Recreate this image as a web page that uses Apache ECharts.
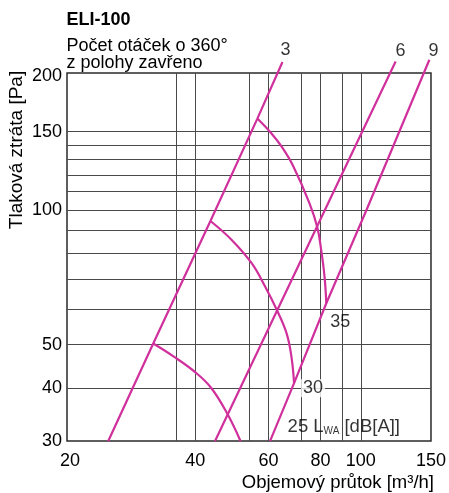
<!DOCTYPE html>
<html><head><meta charset="utf-8">
<script src="https://cdn.jsdelivr.net/npm/echarts@6/dist/echarts.min.js"></script>
<style>html,body{margin:0;padding:0;background:#fff}#c{width:449px;height:493px}</style>
</head><body><div id="c"></div>
<script>
// ---- axis extents and ticks (Q in m3/h, p in Pa) ----
const xMinVal = 19.67, xMaxVal = 147.4;
const yMinVal = 30.43, yMaxVal = 202.9;
const xTickLabels = [20, 40, 60, 80, 100, 150];
const yTickLabels = [30, 40, 50, 100, 150, 200];
const xGridValues = [36, 40, 54, 60, 72, 80, 90, 100];
const yGridValues = [40, 50, 60, 70, 80, 90, 100, 110, 120, 130, 140, 150];

// ---- damper lines (number of turns 3, 6, 9) ----
const turns3Q = [24.7, 31.7, 43.5, 56.4, 64.8];
const turns3P = [30.4, 50.3, 94.6, 160.4, 214.7];
const turns6Q = [44.6, 81.9, 121.2];
const turns6P = [30.4, 100, 215.4];
const turns9Q = [60.5, 69.1, 82.6, 103.1, 146.1];
const turns9P = [30.4, 41.0, 61.9, 100, 217.3];

// ---- sound power curves L_WA 35 / 30 / 25 dB(A) ----
const lwa35Q = [56.4, 60.9, 64.7, 68.8, 75.3, 78.6, 80.3, 81.8, 82.6];
const lwa35P = [160.4, 148.7, 138.3, 125.5, 103.5, 91.5, 81.4, 70.9, 61.9];
const lwa30Q = [43.5, 49.0, 54.7, 58.9, 62.7, 66.3, 68.1, 69.1];
const lwa30P = [94.6, 85.7, 76.0, 67.4, 60.0, 53.0, 47.0, 41.0];
const lwa25Q = [31.7, 35.3, 40.1, 43.7, 47.7, 51.4];
const lwa25P = [50.3, 47.2, 43.3, 40.0, 35.1, 30.4];

const L = Math.log10;
const pairs = (q, p) => q.map((v, i) => [L(v), L(p[i])]);
const lastPt = (q, p) => [L(q[q.length - 1]), L(p[p.length - 1])];
const xMin = L(xMinVal), xMax = L(xMaxVal), yMin = L(yMinVal), yMax = L(yMaxVal);
const clampTo = (v, a, b) => Math.min(Math.max(v, a), b);
const nearest = (arr, v) => arr.reduce((best, t) => Math.abs(L(t) - v) < Math.abs(L(best) - v) ? t : best, arr[0]);

const FONT = '"Liberation Sans", Arial, sans-serif';
const MAG = '#d0309c';
const GRIDC = '#4a4a4a';

function curve(name, q, p, smooth) {
  return {
    type: 'line', name, data: pairs(q, p), showSymbol: false, symbol: 'none',
    smooth: smooth ? 0.4 : false, clip: false, silent: true, z: 3,
    lineStyle: { color: MAG, width: 2.2 }
  };
}

const chart = echarts.init(document.getElementById('c'), null, { renderer: 'canvas' });
chart.setOption({
  animation: false,
  backgroundColor: '#fff',
  grid: { left: 67, right: 15, top: 73, bottom: 52, show: true, borderColor: '#2a2a2a', borderWidth: 1.5, backgroundColor: 'transparent' },
  xAxis: {
    type: 'value', min: xMin, max: xMax,
    axisLine: { show: false }, axisTick: { show: false, customValues: xGridValues.map(L) },
    splitLine: { show: true, lineStyle: { color: GRIDC, width: 1 } },
    axisLabel: {
      customValues: xTickLabels.map(v => clampTo(L(v), xMin, xMax)),
      formatter: v => String(nearest(xTickLabels, v)),
      fontSize: 18, color: '#000', fontFamily: FONT, margin: 11
    }
  },
  yAxis: {
    type: 'value', min: yMin, max: yMax,
    axisLine: { show: false }, axisTick: { show: false, customValues: yGridValues.map(L) },
    splitLine: { show: true, lineStyle: { color: GRIDC, width: 1 } },
    axisLabel: {
      customValues: yTickLabels.map(v => clampTo(L(v), yMin, yMax)),
      formatter: v => String(nearest(yTickLabels, v)),
      fontSize: 18, color: '#000', fontFamily: FONT, margin: 5
    }
  },
  series: [
    curve('3', turns3Q, turns3P, false),
    curve('6', turns6Q, turns6P, false),
    curve('9', turns9Q, turns9P, false),
    curve('35 dB', lwa35Q, lwa35P, true),
    curve('30 dB', lwa30Q, lwa30P, true),
    curve('25 dB', lwa25Q, lwa25P, true),
    {
      type: 'scatter', symbolSize: 1, clip: false, silent: true, z: 6,
      itemStyle: { color: 'rgba(0,0,0,0)' },
      label: { show: true, position: 'inside', fontSize: 18, color: '#000', fontFamily: FONT },
      data: [
        { value: lastPt(turns3Q, turns3P), label: { formatter: '3', offset: [3, -12] } },
        { value: lastPt(turns6Q, turns6P), label: { formatter: '6', offset: [5, -10] } },
        { value: lastPt(turns9Q, turns9P), label: { formatter: '9', offset: [4, -9] } },
        { value: lastPt(lwa35Q, lwa35P), label: { formatter: '35', offset: [14, 19] } },
        { value: lastPt(lwa30Q, lwa30P), label: { formatter: '30', offset: [19, 5], backgroundColor: '#fff', padding: [0, 2] } },
        { value: lastPt(lwa25Q, lwa25P), label: {
            formatter: '25 L{s|WA} [dB[A]]', align: 'left', offset: [47, -14], fontSize: 18.5,
            rich: { s: { fontSize: 10, verticalAlign: 'bottom', fontFamily: FONT, color: '#000' } }
        } }
      ]
    }
  ],
  graphic: [
    { type: 'text', x: 66.5, y: 20.5, style: { text: 'ELI-100', font: 'bold 18px ' + FONT, fill: '#000', align: 'left', verticalAlign: 'middle' } },
    { type: 'text', x: 66.5, y: 46.2, style: { text: 'Počet otáček o 360°', font: '18px ' + FONT, fill: '#000', align: 'left', verticalAlign: 'middle' } },
    { type: 'text', x: 66.5, y: 62.6, style: { text: 'z polohy zavřeno', font: '18px ' + FONT, fill: '#000', align: 'left', verticalAlign: 'middle' } },
    { type: 'text', x: 17, y: 150, rotation: Math.PI / 2, style: { text: 'Tlaková ztráta [Pa]', font: '19px ' + FONT, fill: '#000', align: 'center', verticalAlign: 'middle' } },
    { type: 'text', x: 434, y: 483, style: { text: 'Objemový průtok [m³/h]', font: '18.5px ' + FONT, fill: '#000', align: 'right', verticalAlign: 'middle' } }
  ]
});
</script></body></html>
